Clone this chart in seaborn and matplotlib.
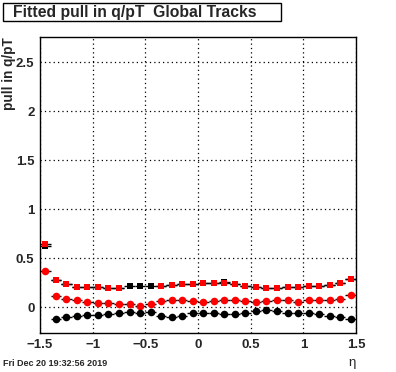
import numpy as np
import pandas as pd
import matplotlib
matplotlib.use("Agg")
import matplotlib.pyplot as plt
import seaborn as sns
from matplotlib.patches import Rectangle
from matplotlib.ticker import MultipleLocator

# bin centres in eta
eta = [-1.45, -1.35, -1.25, -1.15, -1.05, -0.95, -0.85, -0.75, -0.65, -0.55,
       -0.45, -0.35, -0.25, -0.15, -0.05, 0.05, 0.15, 0.25, 0.35, 0.45,
       0.55, 0.65, 0.75, 0.85, 0.95, 1.05, 1.15, 1.25, 1.35, 1.45]

black_sq = [0.63, 0.28, 0.235, 0.207, 0.207, 0.207, 0.20, 0.20, 0.217, 0.217,
            0.217, 0.22, 0.228, 0.235, 0.24, 0.25, 0.25, 0.255, 0.238, 0.22,
            0.21, 0.20, 0.20, 0.204, 0.21, 0.214, 0.217, 0.228, 0.245, 0.289]
red_sq = [0.646, 0.28, 0.235, 0.207, 0.207, 0.207, 0.20, 0.20, np.nan, np.nan,
          np.nan, 0.22, 0.228, 0.235, 0.24, 0.25, 0.25, 0.245, 0.238, 0.22,
          0.21, 0.20, 0.20, 0.204, 0.21, 0.214, 0.217, 0.228, 0.245, 0.289]
red_circ = [0.37, 0.115, 0.085, 0.075, 0.054, 0.044, 0.044, 0.032, 0.037, 0.016,
            0.034, 0.064, 0.08, 0.071, 0.064, 0.05, 0.064, 0.078, 0.075, 0.061,
            0.05, 0.064, 0.072, 0.071, 0.057, 0.071, 0.071, 0.078, 0.088, 0.125]
black_circ = [np.nan, -0.12, -0.099, -0.089, -0.079, -0.079, -0.068, -0.055, -0.045, -0.061,
              -0.045, -0.086, -0.096, -0.086, -0.061, -0.061, -0.055, -0.068, -0.068, -0.061,
              -0.034, -0.027, -0.04, -0.055, -0.061, -0.061, -0.072, -0.086, -0.099, -0.122]

df = pd.DataFrame({'eta': eta, 'black_sq': black_sq, 'red_sq': red_sq,
                   'red_circ': red_circ, 'black_circ': black_circ})

sns.set_style("white")
plt.rcParams['font.family'] = ['Liberation Sans', 'DejaVu Sans']

fig = plt.figure(figsize=(3.96, 3.72), dpi=100)
ax = fig.add_axes([40/396, 39/372, 316/396, 296/372])

# horizontal bin-width bars, all black
for col in ['black_sq', 'red_sq', 'red_circ', 'black_circ']:
    ax.errorbar(df['eta'], df[col], xerr=0.05, fmt='none', ecolor='black',
                elinewidth=1.0, capsize=0, zorder=2)

sns.scatterplot(data=df, x='eta', y='black_sq', marker='s', color='black',
                s=24, linewidth=0, ax=ax, zorder=3)
sns.scatterplot(data=df, x='eta', y='red_sq', marker='s', color='#ff0000',
                s=24, linewidth=0, ax=ax, zorder=4)
sns.scatterplot(data=df, x='eta', y='red_circ', marker='o', color='#ff0000',
                s=30, linewidth=0, ax=ax, zorder=4)
sns.scatterplot(data=df, x='eta', y='black_circ', marker='o', color='black',
                s=30, linewidth=0, ax=ax, zorder=4)

ax.set_xlim(-1.5, 1.5)
ax.set_ylim(-0.262, 2.76)
ax.xaxis.set_minor_locator(MultipleLocator(0.1))
ax.yaxis.set_minor_locator(MultipleLocator(0.1))
ax.set_xticks([-1.5, -1, -0.5, 0, 0.5, 1, 1.5])
ax.set_xticklabels(['\u22121.5', '\u22121', '\u22120.5', '0', '0.5', '1', '1.5'])
ax.set_yticks([0, 0.5, 1, 1.5, 2, 2.5])
ax.set_yticklabels(['0', '0.5', '1', '1.5', '2', '2.5'])
ax.tick_params(which='major', direction='in', length=6.5, width=0.8,
               labelsize=9.5, top=False, right=False, pad=4)
ax.tick_params(which='minor', direction='in', length=3.3, width=0.8,
               top=False, right=False)
for lab in ax.get_xticklabels() + ax.get_yticklabels():
    lab.set_fontweight('bold')

ax.grid(True, which='major', color='black', linestyle=(0, (1, 2.5)), linewidth=0.9)
ax.set_axisbelow(True)
for sp in ax.spines.values():
    sp.set_linewidth(1.0)
    sp.set_color('black')

ax.set_xlabel('')
ax.set_ylabel('')
fig.text(9/396, 1 - 37/372, 'pull in q/pT', rotation=90, ha='center', va='top',
         fontsize=9.8, fontweight='bold')
fig.text(352/396, 1 - 363/372, '\u03b7', ha='center', va='center', fontsize=9.5)

# title box
fig.patches.append(Rectangle((3/396, 1 - 21/372), 278/396, 18/372,
                             transform=fig.transFigure, fill=False,
                             edgecolor='black', linewidth=1.0))
fig.text(13/396, 1 - 12.5/372, 'Fitted pull in q/pT  Global Tracks',
         ha='left', va='center', fontsize=11.3, fontweight='bold')

fig.text(3/396, 1 - 364/372, 'Fri Dec 20 19:32:56 2019', ha='left', va='center',
         fontsize=6.5, fontweight='bold')

fig.savefig('out.png', dpi=100)
